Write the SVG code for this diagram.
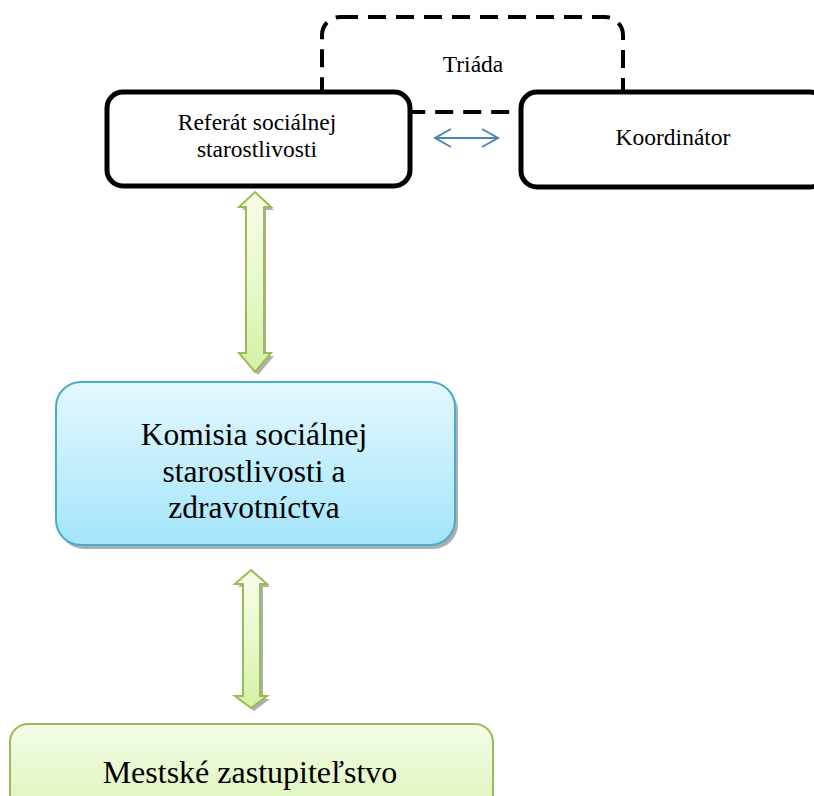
<svg xmlns="http://www.w3.org/2000/svg" width="814" height="796" viewBox="0 0 814 796">
<defs>
<linearGradient id="gBlue" x1="0" y1="0" x2="0" y2="1"><stop offset="0" stop-color="#e4f8fe"/><stop offset="1" stop-color="#a3e5fa"/></linearGradient>
<linearGradient id="gGreen" x1="0" y1="0" x2="0" y2="1"><stop offset="0" stop-color="#f3fce6"/><stop offset="1" stop-color="#dcf4b6"/></linearGradient>
<linearGradient id="gArrow" x1="0" y1="0" x2="0" y2="1"><stop offset="0" stop-color="#f6fde9"/><stop offset="0.5" stop-color="#e8f9cc"/><stop offset="1" stop-color="#d4f0a6"/></linearGradient>
<marker id="openArrow" viewBox="0 0 20 20" refX="17" refY="10" markerWidth="20" markerHeight="20" markerUnits="userSpaceOnUse" orient="auto-start-reverse"><path d="M1,1 L17,10 L1,19" fill="none" stroke="#4f81bd" stroke-width="2"/></marker>
<style>
.blk{fill:#ffffff;stroke:#000000;stroke-width:5}
.t{font-family:"Liberation Serif","Times New Roman",serif;fill:#000000;text-anchor:middle}
.sh{fill:#8c8c8c;opacity:0.7}
.garrow{fill:url(#gArrow);stroke:#9bbb59;stroke-width:2;stroke-linejoin:miter}
</style>
</defs>
<g id="triada">
<rect x="322" y="17" width="301" height="95" rx="18" fill="none" stroke="#000" stroke-width="4" stroke-dasharray="18 10"/>
<text class="t" x="473" y="72" font-size="23.5">Triáda</text>
</g>
<g id="referat">
<rect class="blk" x="107" y="92" width="303" height="94" rx="16"/>
<text class="t" x="257" y="130" font-size="23.5">Referát sociálnej</text>
<text class="t" x="257" y="157" font-size="23.5">starostlivosti</text>
</g>
<g id="koordinator">
<rect class="blk" x="521" y="92" width="305" height="95" rx="16"/>
<text class="t" x="673" y="145" font-size="23.5">Koordinátor</text>
</g>
<g id="komisia">
<rect class="sh" x="59" y="386" width="399" height="163" rx="25"/>
<rect x="56" y="382" width="399" height="163" rx="25" fill="url(#gBlue)" stroke="#4bacc6" stroke-width="2"/>
<text class="t" x="254" y="445" font-size="31.5">Komisia sociálnej</text>
<text class="t" x="254" y="482" font-size="31.5">starostlivosti a</text>
<text class="t" x="254" y="518" font-size="31.5">zdravotníctva</text>
</g>
<g id="mestske">
<rect x="10" y="724" width="483" height="100" rx="18" fill="url(#gGreen)" stroke="#9bbb59" stroke-width="2"/>
<text class="t" x="250" y="783" font-size="32">Mestské zastupiteľstvo</text>
</g>
<g id="connectors">
<line x1="435" y1="138" x2="498" y2="138" stroke="#4f81bd" stroke-width="2" marker-start="url(#openArrow)" marker-end="url(#openArrow)"/>
<path class="sh" d="M258,195 L274,210 L266,210 L266,356 L274,356 L258,375 L242,356 L250,356 L250,210 L242,210 Z"/>
<path class="garrow" d="M255,192 L271,207 L264,207 L264,353 L271,353 L255,372 L239,353 L246,353 L246,207 L239,207 Z"/>
<path class="sh" d="M254,573 L270,587 L263,587 L263,699 L270,699 L254,711 L238,699 L246,699 L246,587 L238,587 Z"/>
<path class="garrow" d="M251,570 L267,584 L260,584 L260,696 L267,696 L251,708 L235,696 L243,696 L243,584 L235,584 Z"/>
</g>
</svg>
